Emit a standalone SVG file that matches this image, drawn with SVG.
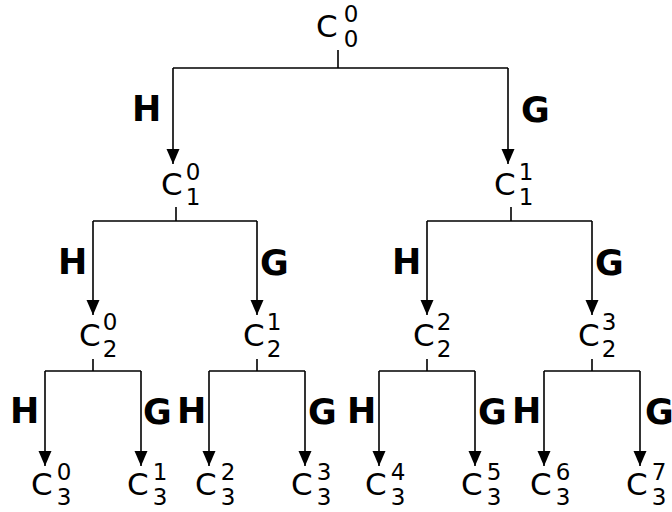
<svg xmlns="http://www.w3.org/2000/svg" width="672" height="512" viewBox="0 0 672 512">
<style>
.c{font-family:"DejaVu Sans",Verdana,sans-serif;font-size:31px;fill:#000}
.d{font-family:"DejaVu Sans",Verdana,sans-serif;font-size:23px;fill:#000;text-anchor:middle}
.l{font-family:"DejaVu Sans",Verdana,sans-serif;font-size:35px;font-weight:bold;fill:#000}
.w{fill:none;stroke:#000;stroke-width:1.6}
.a{fill:none;stroke:#000;stroke-width:1.6;marker-end:url(#ah)}
</style>
<defs>
<marker id="ah" markerUnits="userSpaceOnUse" markerWidth="16" markerHeight="14" refX="15" refY="6.5" orient="auto" viewBox="0 0 16 13">
<path d="M0,0 L15,6.5 L0,13 z" fill="#000"/>
</marker>
</defs>
<rect width="672" height="512" fill="#fff"/>
<g id="connectors">
<path class="w" d="M338,50 V68 M173,68 H508"/>
<path class="a" d="M173,68 V164"/>
<path class="a" d="M508,68 V164"/>
<path class="w" d="M176,207 V221 M93,221 H257 M511,207 V221 M427,221 H592"/>
<path class="a" d="M93,221 V315"/>
<path class="a" d="M257,221 V315"/>
<path class="a" d="M427,221 V315"/>
<path class="a" d="M592,221 V315"/>
<path class="w" d="M93,359 V371 M45,371 H141 M257,359 V371 M209,371 H305 M427,359 V371 M379,371 H475 M592,359 V371 M544,371 H640"/>
<path class="a" d="M45,371 V466"/>
<path class="a" d="M141,371 V466"/>
<path class="a" d="M209,371 V466"/>
<path class="a" d="M305,371 V466"/>
<path class="a" d="M379,371 V466"/>
<path class="a" d="M475,371 V466"/>
<path class="a" d="M544,371 V466"/>
<path class="a" d="M640,371 V466"/>
</g>
<g id="labels">
<text class="l" x="132" y="121">H</text>
<text class="l" x="521" y="122">G</text>
<text class="l" x="58" y="274">H</text>
<text class="l" x="260" y="275">G</text>
<text class="l" x="392" y="274">H</text>
<text class="l" x="595" y="275">G</text>
<text class="l" x="10" y="423">H</text>
<text class="l" x="143" y="424">G</text>
<text class="l" x="177" y="423">H</text>
<text class="l" x="308" y="424">G</text>
<text class="l" x="347" y="423">H</text>
<text class="l" x="478" y="424">G</text>
<text class="l" x="512" y="423">H</text>
<text class="l" x="645" y="424">G</text>
</g>
<g id="n0"><text class="c" x="316" y="37">C</text><text class="d" x="351" y="22">0</text><text class="d" x="351" y="47">0</text></g>
<g id="n10"><text class="c" x="161" y="195">C</text><text class="d" x="193" y="180">0</text><text class="d" x="193" y="205">1</text></g>
<g id="n11"><text class="c" x="494" y="195">C</text><text class="d" x="526" y="180">1</text><text class="d" x="526" y="205">1</text></g>
<g id="n20"><text class="c" x="79" y="346">C</text><text class="d" x="110" y="330">0</text><text class="d" x="110" y="357">2</text></g>
<g id="n21"><text class="c" x="243" y="346">C</text><text class="d" x="274" y="330">1</text><text class="d" x="274" y="357">2</text></g>
<g id="n22"><text class="c" x="413" y="346">C</text><text class="d" x="444" y="330">2</text><text class="d" x="444" y="357">2</text></g>
<g id="n23"><text class="c" x="578" y="346">C</text><text class="d" x="609" y="330">3</text><text class="d" x="609" y="357">2</text></g>
<g id="n30"><text class="c" x="31" y="495">C</text><text class="d" x="64" y="480">0</text><text class="d" x="64" y="505">3</text></g>
<g id="n31"><text class="c" x="127" y="495">C</text><text class="d" x="160" y="480">1</text><text class="d" x="160" y="505">3</text></g>
<g id="n32"><text class="c" x="195" y="495">C</text><text class="d" x="228" y="480">2</text><text class="d" x="228" y="505">3</text></g>
<g id="n33"><text class="c" x="291" y="495">C</text><text class="d" x="324" y="480">3</text><text class="d" x="324" y="505">3</text></g>
<g id="n34"><text class="c" x="365" y="495">C</text><text class="d" x="398" y="480">4</text><text class="d" x="398" y="505">3</text></g>
<g id="n35"><text class="c" x="461" y="495">C</text><text class="d" x="494" y="480">5</text><text class="d" x="494" y="505">3</text></g>
<g id="n36"><text class="c" x="530" y="495">C</text><text class="d" x="563" y="480">6</text><text class="d" x="563" y="505">3</text></g>
<g id="n37"><text class="c" x="626" y="495">C</text><text class="d" x="659" y="480">7</text><text class="d" x="659" y="505">3</text></g>
</svg>
